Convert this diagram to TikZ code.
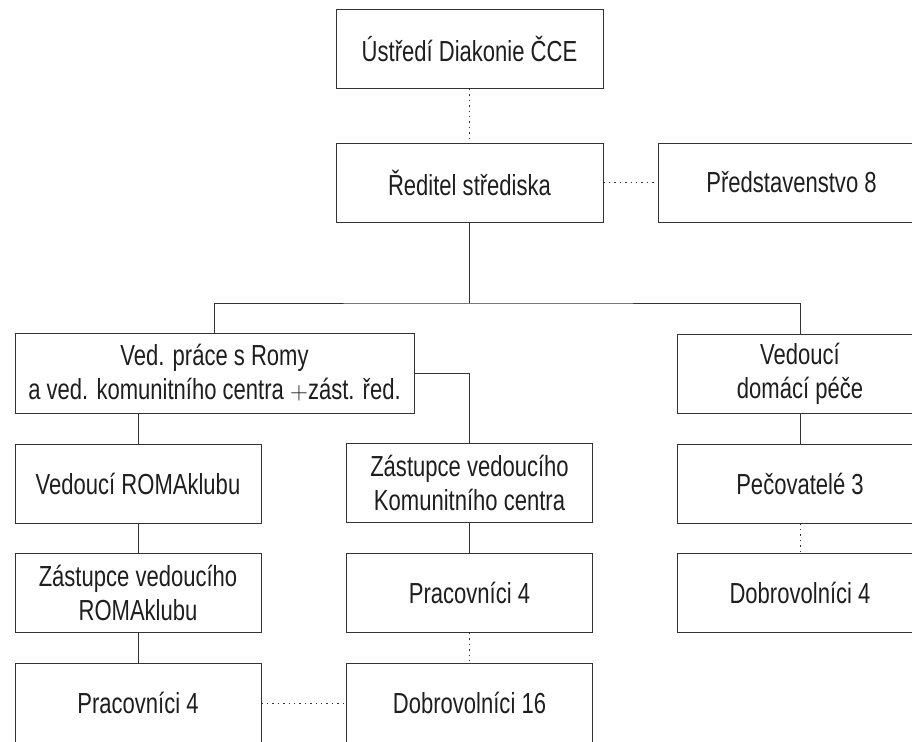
\documentclass[tikz,border=0pt]{standalone}
\usepackage{fontspec}
\setmainfont{Liberation Sans}[FakeStretch=0.76]
\definecolor{ln}{HTML}{333333}
\definecolor{tx}{HTML}{1E1E1E}
\tikzset{
  orgbox/.style={draw=ln, line width=1pt, rectangle, inner sep=0pt, align=center,
    text=tx, font=\fontsize{29}{34}\selectfont},
  topbox/.style={orgbox, minimum width=267pt, minimum height=79pt},
  colbox/.style={orgbox, minimum width=246pt, minimum height=79pt},
  solidlink/.style={draw=ln, line width=1pt},
  dotlink/.style={draw=ln, line width=1pt, dash pattern=on 1.4pt off 4pt}
}
\begin{document}
\begin{tikzpicture}[x=1pt,y=-1pt]
\useasboundingbox (0,0) rectangle (912,741);
\clip (0,0) rectangle (912,741);
\node[topbox] (ustredi) at (469.5,49) {Ústředí Diakonie ČCE};
\node[topbox] (reditel) at (469.5,182.5) {Ředitel střediska};
\node[topbox] (predst) at (791.5,182.5) {Představenstvo 8};
\node[orgbox, minimum width=399pt, minimum height=80pt] (vedprace) at (214.5,373) {Ved. práce s Romy\\a ved. komunitního centra $+$zást. řed.};
\node[colbox] (vedromak) at (138,483.5) {Vedoucí ROMAklubu};
\node[colbox] (zastrom) at (138,593) {Zástupce vedoucího\\ROMAklubu};
\node[colbox] (prac1) at (138,703) {Pracovníci 4};
\node[colbox] (zastkc) at (469.5,483) {Zástupce vedoucího\\Komunitního centra};
\node[colbox] (prac2) at (469.5,593) {Pracovníci 4};
\node[colbox] (dobr16) at (469.5,703) {Dobrovolníci 16};
\node[colbox] (veddom) at (800,373.5) {Vedoucí\\domácí péče};
\node[colbox] (pecov) at (800,483.5) {Pečovatelé 3};
\node[colbox] (dobr4) at (800,593) {Dobrovolníci 4};
\coordinate (bus) at (469.5,303);
\draw[dotlink] (ustredi.south) -- (reditel.north);
\draw[dotlink] (reditel.east) -- (predst.west);
\draw[solidlink] (reditel.south) -- (bus);
\draw[solidlink] (vedprace.north) |- (bus) -| (veddom.north);
\draw[solidlink] (vedprace.east) -| (zastkc.north);
\draw[solidlink] (vedromak.north) -- (vedromak.north |- vedprace.south);
\draw[solidlink] (vedromak) -- (zastrom);
\draw[solidlink] (zastrom) -- (prac1);
\draw[solidlink] (zastkc) -- (prac2);
\draw[dotlink] (prac2) -- (dobr16);
\draw[dotlink] (prac1) -- (dobr16);
\draw[solidlink] (veddom) -- (pecov);
\draw[dotlink] (pecov) -- (dobr4);
\end{tikzpicture}
\end{document}
